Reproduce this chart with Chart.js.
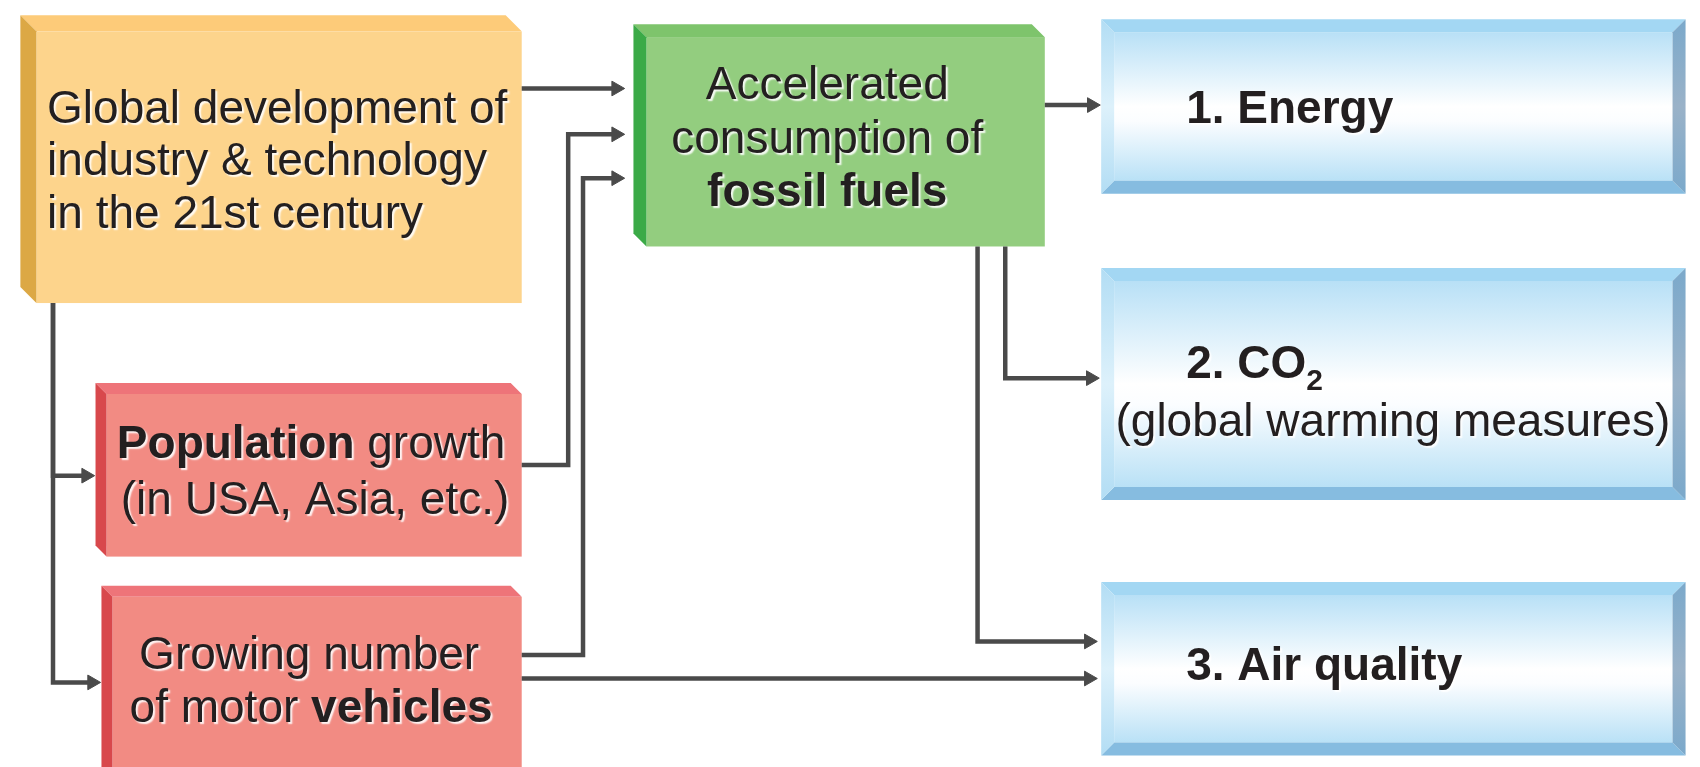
<!DOCTYPE html>
<html>
<head>
<meta charset="utf-8">
<script src="https://cdn.jsdelivr.net/npm/chart.js@4.4.1/dist/chart.umd.min.js"></script>
<style>
  html, body { margin: 0; padding: 0; background: #fff; }
  canvas { display: block; }
</style>
</head>
<body>
<canvas id="flowChart" width="1700" height="767"></canvas>
<script>
// Diagram content: nodes, their labels and the links between them
// (**text** = bold, ~text~ = subscript)
const nodeIds = ["industry", "fuels", "population", "vehicles", "energy", "co2", "air"];
const nodeLabels = [
  "Global development of\nindustry & technology\nin the 21st century",
  "Accelerated\nconsumption of\n**fossil fuels**",
  "**Population** growth\n(in USA, Asia, etc.)",
  "Growing number\nof motor **vehicles**",
  "**1. Energy**",
  "**2. CO**~2~\n(global warming measures)",
  "**3. Air quality**"
];
const nodeKinds = ["orange", "green", "red", "red", "blue", "blue", "blue"];
const linkFrom = ["industry", "industry", "industry", "population", "vehicles", "vehicles", "fuels", "fuels", "fuels"];
const linkTo   = ["fuels", "population", "vehicles", "fuels", "fuels", "air", "energy", "co2", "air"];

// ---- layout (in chart units, 1 unit = 1px) ----
const nodeBox = {
  industry:   [11, 6, 518, 301, 16],
  fuels:      [631, 15, 1047, 243, 13],
  population: [87, 383, 518, 561, 11],
  vehicles:   [93, 591, 518, 800, 11],
  energy:     [1104, 10, 1695, 189, 13],
  co2:        [1104, 265, 1695, 503, 13],
  air:        [1104, 587, 1695, 765, 13]
};
// one anchor per text line: [x, baseline, align]
const textAnchors = {
  industry:   [[38, 116, "left"], [38, 170, "left"], [38, 224, "left"]],
  fuels:      [[827, 92, "center"], [827, 147, "center"], [827, 202, "center"]],
  population: [[305, 460, "center"], [309, 517, "center"]],
  vehicles:   [[303, 676, "center"], [305, 731, "center"]],
  energy:     [[1190, 116, "left"]],
  co2:        [[1190, 378, "left"], [1399, 437, "center"]],
  air:        [[1190, 688, "left"]]
};
// routes for each link, last point = arrow tip
const linkRoutes = [
  [[518, 81], [622, 81]],
  [[44, 301], [44, 478], [86, 478]],
  [[44, 301], [44, 690], [92, 690]],
  [[518, 467], [565, 467], [565, 128], [622, 128]],
  [[518, 662], [580, 662], [580, 173], [622, 173]],
  [[518, 686], [1100, 686]],
  [[1047, 98], [1103, 98]],
  [[1007, 243], [1007, 378], [1102, 378]],
  [[979, 243], [979, 648], [1100, 648]]
];

const palette = {
  orange: { face: "#FDD48C", top: "#FDCB79", side: "#DCA845" },
  green:  { face: "#93CD7F", top: "#7EC46C", side: "#3BAA47" },
  red:    { face: "#F28B83", top: "#EE7479", side: "#D8484C" }
};
const arrowColor = "#4A4A4A";
const headR = 8.5;
const fontFamily = '"Liberation Sans", Arial, sans-serif';

function poly(ctx, pts, fill) {
  ctx.beginPath();
  ctx.moveTo(pts[0][0], pts[0][1]);
  pts.slice(1).forEach(p => ctx.lineTo(p[0], p[1]));
  ctx.closePath();
  ctx.fillStyle = fill;
  ctx.fill();
}

function drawBevelBox(ctx, x0, y0, x1, y1, d, c) {
  ctx.fillStyle = c.face;
  ctx.fillRect(x0 + d, y0 + d, x1 - x0 - d, y1 - y0 - d);
  poly(ctx, [[x0, y0], [x1 - d, y0], [x1, y0 + d], [x0 + d, y0 + d]], c.top);
  poly(ctx, [[x0, y0], [x0 + d, y0 + d], [x0 + d, y1], [x0, y1 - d]], c.side);
}

function drawBlueBox(ctx, x0, y0, x1, y1, d) {
  const g = ctx.createLinearGradient(0, y0 + d, 0, y1 - d);
  g.addColorStop(0, "#B8E0F6");
  g.addColorStop(0.5, "#FFFFFF");
  g.addColorStop(0.6, "#FBFDFF");
  g.addColorStop(1, "#B9E1F6");
  ctx.fillStyle = g;
  ctx.fillRect(x0 + d, y0 + d, x1 - x0 - 2 * d, y1 - y0 - 2 * d);
  poly(ctx, [[x0, y0], [x1, y0], [x1 - d, y0 + d], [x0 + d, y0 + d]], "#A3D7F3");
  poly(ctx, [[x0, y1], [x1, y1], [x1 - d, y1 - d], [x0 + d, y1 - d]], "#86BCE0");
  const gl = ctx.createLinearGradient(0, y0, 0, y1);
  gl.addColorStop(0, "#B2DDF4");
  gl.addColorStop(0.5, "#DDF1FB");
  gl.addColorStop(1, "#B2DDF4");
  poly(ctx, [[x0, y0], [x0 + d, y0 + d], [x0 + d, y1 - d], [x0, y1]], gl);
  const gr = ctx.createLinearGradient(0, y0, 0, y1);
  gr.addColorStop(0, "#7BA9CB");
  gr.addColorStop(0.5, "#9AB2C8");
  gr.addColorStop(1, "#7BA9CB");
  poly(ctx, [[x1, y0], [x1 - d, y0 + d], [x1 - d, y1 - d], [x1, y1]], gr);
}

// split a label line into styled runs
function parseRuns(line) {
  const runs = [];
  line.split(/(\*\*[^*]+\*\*|~[^~]+~)/).forEach(part => {
    if (!part) return;
    if (part.startsWith("**")) runs.push({ text: part.slice(2, -2), bold: true, sub: false });
    else if (part.startsWith("~")) runs.push({ text: part.slice(1, -1), bold: true, sub: true });
    else runs.push({ text: part, bold: false, sub: false });
  });
  return runs;
}

function runFont(r) {
  return (r.bold ? "bold " : "") + (r.sub ? "30px " : "46px ") + fontFamily;
}

const diagramPlugin = {
  id: "diagram",
  beforeDatasetsDraw(chart) {
    const { ctx, scales: { x, y } } = chart;
    ctx.save();
    nodeIds.forEach((id, i) => {
      const b = nodeBox[id];
      const x0 = x.getPixelForValue(b[0]), y0 = y.getPixelForValue(b[1]);
      const x1 = x.getPixelForValue(b[2]), y1 = y.getPixelForValue(b[3]);
      if (nodeKinds[i] === "blue") drawBlueBox(ctx, x0, y0, x1, y1, b[4]);
      else drawBevelBox(ctx, x0, y0, x1, y1, b[4], palette[nodeKinds[i]]);
    });
    ctx.restore();
  },
  afterDatasetsDraw(chart) {
    const { ctx, scales: { x, y } } = chart;
    ctx.save();
    ctx.textBaseline = "alphabetic";
    ctx.textAlign = "left";
    nodeIds.forEach((id, i) => {
      const shadow = nodeKinds[i] !== "blue";
      nodeLabels[i].split("\n").forEach((line, li) => {
        const [ax, ay, align] = textAnchors[id][li];
        const runs = parseRuns(line);
        let total = 0;
        runs.forEach(r => { ctx.font = runFont(r); r.w = ctx.measureText(r.text).width; total += r.w; });
        let px = x.getPixelForValue(ax);
        if (align === "center") px -= total / 2;
        const py = y.getPixelForValue(ay);
        runs.forEach(r => {
          ctx.font = runFont(r);
          if (shadow) {
            ctx.shadowColor = "rgba(255,255,255,0.9)";
            ctx.shadowOffsetX = 2;
            ctx.shadowOffsetY = 2;
            ctx.shadowBlur = 1.5;
          }
          ctx.fillStyle = "#231F20";
          ctx.fillText(r.text, px, py + (r.sub ? 12 : 0));
          px += r.w;
        });
      });
    });
    ctx.restore();
  }
};

// connector lines end at the arrowhead centre
const lineDatasets = linkRoutes.map((route, i) => ({
  label: linkFrom[i] + " -> " + linkTo[i],
  data: route.map((p, k) => ({ x: k === route.length - 1 ? p[0] - headR : p[0], y: p[1] })),
  showLine: true,
  borderColor: arrowColor,
  borderWidth: 4.5,
  borderCapStyle: "butt",
  borderJoinStyle: "miter",
  pointRadius: 0,
  tension: 0,
  fill: false
}));

const headDataset = {
  label: "heads",
  data: linkRoutes.map(route => {
    const tip = route[route.length - 1];
    return { x: tip[0] - headR, y: tip[1] };
  }),
  showLine: false,
  pointStyle: "triangle",
  rotation: 90,
  pointRadius: headR,
  backgroundColor: arrowColor,
  borderColor: arrowColor,
  borderWidth: 1
};

new Chart(document.getElementById("flowChart"), {
  type: "scatter",
  data: { datasets: [...lineDatasets, headDataset] },
  options: {
    responsive: false,
    animation: false,
    devicePixelRatio: 1,
    events: [],
    layout: { padding: 0 },
    scales: {
      x: { type: "linear", min: 0, max: 1700, display: false },
      y: { type: "linear", min: 0, max: 767, reverse: true, display: false }
    },
    plugins: {
      legend: { display: false },
      tooltip: { enabled: false }
    }
  },
  plugins: [diagramPlugin]
});
</script>
</body>
</html>
